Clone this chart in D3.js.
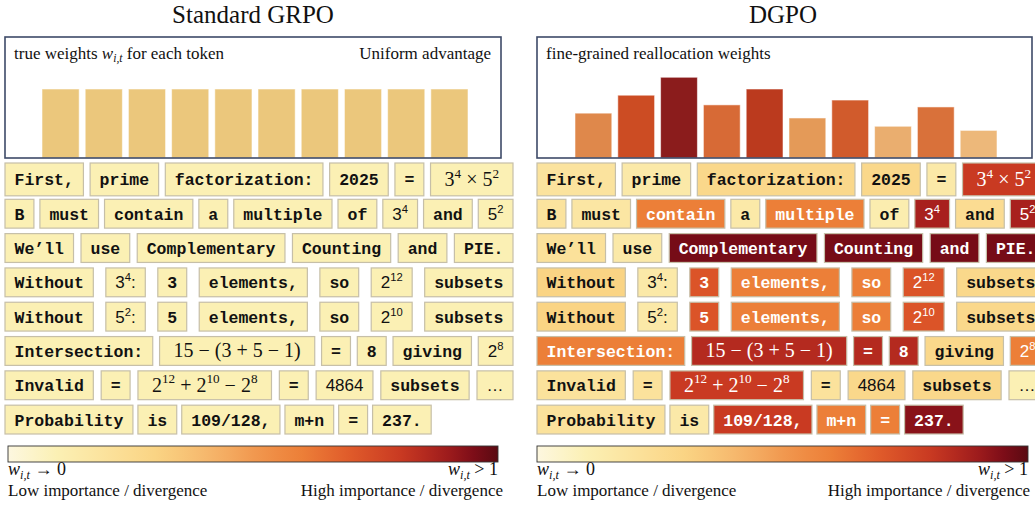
<!DOCTYPE html>
<html>
<head>
<meta charset="utf-8">
<script src="https://cdn.jsdelivr.net/npm/d3@7"></script>
<style>
  body { margin: 0; background: #fff; }
</style>
</head>
<body>
<script>
// ---------------- data ----------------
const panelTitles = ["Standard GRPO", "DGPO"];

// $...$ = math (serif), `...` = sans, plain = monospace token; ^{..} = superscript
const tokenRows = [
  ["First,", "prime", "factorization:", "2025", "=", "$3^{4} × 5^{2}$"],
  ["B", "must", "contain", "a", "multiple", "of", "`3^{4}`", "and", "`5^{2}`"],
  ["We’ll", "use", "Complementary", "Counting", "and", "PIE."],
  ["Without", "`3^{4}:`", "3", "elements,", "so", "`2^{12}`", "subsets"],
  ["Without", "`5^{2}:`", "5", "elements,", "so", "`2^{10}`", "subsets"],
  ["Intersection:", "$15 − (3 + 5 − 1)$", "=", "8", "giving", "`2^{8}`"],
  ["Invalid", "=", "$2^{12} + 2^{10} − 2^{8}$", "=", "`4864`", "subsets", "`…`"],
  ["Probability", "is", "109/128,", "m+n", "=", "237."]
];

// token weights on the 0..1 colour scale
const grpoTokenWeight = 0.1;
const dgpoTokenWeights = [
  [0.19, 0.15, 0.27, 0.27, 0.15, 0.80],
  [0.19, 0.17, 0.60, 0.15, 0.60, 0.12, 0.88, 0.24, 0.88],
  [0.21, 0.15, 0.96, 0.96, 0.96, 0.96],
  [0.30, 0.15, 0.72, 0.60, 0.60, 0.72, 0.27],
  [0.30, 0.15, 0.72, 0.60, 0.60, 0.72, 0.27],
  [0.60, 0.85, 0.85, 0.85, 0.27, 0.60],
  [0.20, 0.20, 0.80, 0.20, 0.27, 0.27, 0.10],
  [0.20, 0.15, 0.80, 0.60, 0.60, 0.93]
];

// bar heights (relative weight, uniform = 1)
const barIndex = d3.range(10);
const grpoBarWeights = [1, 1, 1, 1, 1, 1, 1, 1, 1, 1];
const dgpoBarWeights = [0.65, 0.91, 1.17, 0.77, 1.00, 0.58, 0.84, 0.46, 0.74, 0.40];

const boxNotes = [
  { left: ["true weights ", "w", " for each token"], right: "Uniform advantage" },
  { left: ["fine-grained reallocation weights"], right: null }
];
const lowLabel = "Low importance / divergence";
const highLabel = "High importance / divergence";

// ---------------- styles ----------------
const W = 1035, H = 510;
const fontMono = "'Courier New','Nimbus Mono PS','Liberation Mono',monospace";
const fontSans = "'Liberation Sans',Arial,sans-serif";
const fontSerif = "'Liberation Serif','Times New Roman',serif";

const colorStops = [
  [0, "#fdf7e0"], [0.1, "#fbf0b4"], [0.2, "#fbe29c"], [0.3, "#fad484"],
  [0.42, "#f5b46a"], [0.52, "#f0924a"], [0.6, "#ec7f38"], [0.7, "#df5a2a"],
  [0.8, "#c93a22"], [0.88, "#a8201d"], [0.95, "#7d0d18"], [1, "#5a0a12"]
];
const heat = d3.scaleLinear()
  .domain(colorStops.map(d => d[0]))
  .range(colorStops.map(d => d[1]))
  .interpolate(d3.interpolateRgb)
  .clamp(true);

const barColor = d3.scaleLinear()
  .domain([0.4, 0.58, 0.74, 0.91, 1.0, 1.17])
  .range(["#edb87a", "#e49a58", "#d9713a", "#cc4c23", "#bb3a1e", "#8b1c1c"])
  .clamp(true);

const kindStyle = {
  mono: { family: fontMono, size: 16.5, weight: "bold", pad: 9.5 },
  sans: { family: fontSans, size: 17, weight: "normal", pad: 9.5 },
  math: { family: fontSerif, size: 20, weight: "normal", pad: 14 }
};

const panels = [
  { x0: 5, boxX1: 501, titleX: 253, barRange: [42, 468], cbar: [8, 498], rightEdge: 503,
    bars: grpoBarWeights, uniform: true },
  { x0: 537, boxX1: 1032, titleX: 783, barRange: [575, 997], cbar: [537, 1028], rightEdge: 1030,
    bars: dgpoBarWeights, uniform: false }
];

const svg = d3.select("body").append("svg")
  .attr("width", W).attr("height", H)
  .style("font-family", fontSerif);

function tokenKind(tok) {
  if (tok.startsWith("$")) return { kind: "math", text: tok.slice(1, -1) };
  if (tok.startsWith("`")) return { kind: "sans", text: tok.slice(1, -1) };
  return { kind: "mono", text: tok };
}

function writeRich(sel, str, size) {
  const parts = str.split(/(\^\{[^}]*\})/).filter(s => s.length);
  let up = false;
  parts.forEach(p => {
    const sup = p.startsWith("^{");
    const t = sel.append("tspan").text(sup ? p.slice(2, -1) : p);
    if (sup) { t.attr("font-size", size * 0.66).attr("dy", -size * 0.42); up = true; }
    else if (up) { t.attr("dy", size * 0.42); up = false; }
  });
}

// w_{i,t} followed by some text
function writeW(sel, before, after, size) {
  if (before) sel.append("tspan").text(before);
  sel.append("tspan").attr("font-style", "italic").text("w");
  sel.append("tspan").attr("font-style", "italic").attr("font-size", size * 0.68)
    .attr("dy", size * 0.2).text("i,t");
  sel.append("tspan").attr("dy", -size * 0.2).text(after);
}

// ---------------- token layout (justified rows) ----------------
const rowY = d3.scaleBand().domain(d3.range(tokenRows.length)).range([165, 434]).paddingInner(0.16);
const rowSpan = 508, gapMin = 5;

const measureG = svg.append("g").attr("opacity", 0);
const layout = tokenRows.map((row, r) => {
  const items = row.map((tok, i) => {
    const k = tokenKind(tok), st = kindStyle[k.kind];
    const t = measureG.append("text")
      .attr("font-family", st.family).attr("font-size", st.size)
      .attr("font-weight", st.weight).style("white-space", "pre");
    writeRich(t, k.text, st.size);
    const tw = t.node().getComputedTextLength();
    return { r, i, kind: k.kind, text: k.text, w: tw + 2 * st.pad };
  });
  const total = d3.sum(items, d => d.w);
  const last = r === tokenRows.length - 1;
  const gap = last ? gapMin : Math.max(gapMin, (rowSpan - total) / (items.length - 1));
  let x = 0;
  items.forEach(d => { d.x = x; x += d.w + gap; });
  return items;
});
measureG.remove();
const tokens = layout.flat();

// ---------------- draw panels ----------------
const defs = svg.append("defs");

panels.forEach((p, pi) => {
  const g = svg.append("g");

  g.append("text")
    .attr("x", p.titleX).attr("y", 23)
    .attr("text-anchor", "middle")
    .attr("font-size", 25).attr("fill", "#111")
    .text(panelTitles[pi]);

  // bars
  const x = d3.scaleBand().domain(barIndex).range(p.barRange).paddingInner(0.14);
  const y = d3.scaleLinear().domain([0, 1]).range([158, 89]);
  g.selectAll("rect.bar")
    .data(p.bars)
    .join("rect")
    .attr("class", "bar")
    .attr("x", (d, i) => x(i))
    .attr("y", d => y(d))
    .attr("width", x.bandwidth())
    .attr("height", d => y(0) - y(d))
    .attr("fill", d => p.uniform ? "#ebc77c" : barColor(d))
    .attr("stroke", "#ffffff").attr("stroke-opacity", 0.55).attr("stroke-width", 1);

  // panel frame
  g.append("rect")
    .attr("x", p.x0).attr("y", 37)
    .attr("width", p.boxX1 - p.x0).attr("height", 121)
    .attr("fill", "none").attr("stroke", "#3e4a68").attr("stroke-width", 1.6);

  const note = boxNotes[pi];
  const nt = g.append("text").attr("x", p.x0 + 9).attr("y", 59)
    .attr("font-size", 17).attr("fill", "#111").style("white-space", "pre");
  if (note.left.length > 1) writeW(nt, note.left[0], note.left[2], 17);
  else nt.text(note.left[0]);
  if (note.right) {
    g.append("text").attr("x", p.boxX1 - 10).attr("y", 59)
      .attr("text-anchor", "end").attr("font-size", 17).attr("fill", "#111")
      .text(note.right);
  }

  // tokens
  const tg = g.append("g").attr("transform", `translate(${p.x0},0)`);
  const tokG = tg.selectAll("g.tok")
    .data(tokens)
    .join("g")
    .attr("class", "tok");

  const wOf = d => p.uniform ? grpoTokenWeight : dgpoTokenWeights[d.r][d.i];

  tokG.append("rect")
    .attr("x", d => d.x)
    .attr("y", d => rowY(d.r) - (d.r === 0 ? 2 : 0))
    .attr("width", d => d.w)
    .attr("height", d => rowY.bandwidth() + (d.r === 0 ? 4 : 0))
    .attr("fill", d => heat(wOf(d)))
    .attr("stroke", "#c6bfa8").attr("stroke-width", 1.2);

  tokG.append("text")
    .attr("x", d => d.x + d.w / 2)
    .attr("y", d => rowY(d.r) + rowY.bandwidth() / 2 + (d.kind === "math" ? 6.5 : 6))
    .attr("text-anchor", "middle")
    .attr("font-family", d => kindStyle[d.kind].family)
    .attr("font-size", d => kindStyle[d.kind].size)
    .attr("font-weight", d => kindStyle[d.kind].weight)
    .attr("fill", d => wOf(d) > 0.5 ? "#fff" : "#111")
    .style("white-space", "pre")
    .each(function (d) { writeRich(d3.select(this), d.text, kindStyle[d.kind].size); });

  // colour bar
  const gid = "cb" + pi;
  const grad = defs.append("linearGradient").attr("id", gid);
  d3.range(0, 1.0001, 0.05).forEach(t => {
    grad.append("stop").attr("offset", t).attr("stop-color", heat(t));
  });
  g.append("rect")
    .attr("x", p.cbar[0]).attr("y", 446)
    .attr("width", p.cbar[1] - p.cbar[0]).attr("height", 16)
    .attr("fill", `url(#${gid})`)
    .attr("stroke", "#333").attr("stroke-width", 0.9);

  const l1 = g.append("text").attr("x", p.cbar[0]).attr("y", 475)
    .attr("font-size", 18).attr("fill", "#111").style("white-space", "pre");
  writeW(l1, null, " → 0", 18);
  const r1 = g.append("text").attr("x", p.cbar[1]).attr("y", 475)
    .attr("text-anchor", "end")
    .attr("font-size", 18).attr("fill", "#111").style("white-space", "pre");
  writeW(r1, null, " > 1", 18);

  g.append("text").attr("x", p.cbar[0]).attr("y", 496)
    .attr("font-size", 17).attr("fill", "#111").text(lowLabel);
  g.append("text").attr("x", p.rightEdge).attr("y", 496)
    .attr("text-anchor", "end")
    .attr("font-size", 17).attr("fill", "#111").text(highLabel);
});
</script>
</body>
</html>
